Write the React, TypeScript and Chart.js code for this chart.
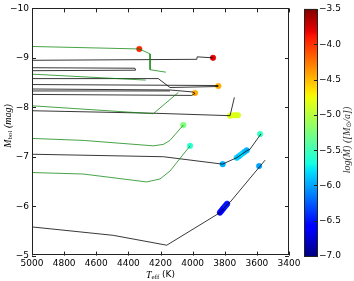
import React, { useEffect, useRef } from "react";
import { Chart, registerables } from "chart.js";
Chart.register(...registerables);

// ---- axis / colorbar ticks ----
const xMin = 3400;
const xMax = 5000;
const yMin = -10;
const yMax = -5;
const xTicks = [5000, 4800, 4600, 4400, 4200, 4000, 3800, 3600, 3400];
const yTicks = [-10, -9, -8, -7, -6, -5];
const cbTicks = [-7.0, -6.5, -6.0, -5.5, -5.0, -4.5, -4.0, -3.5];
const cbMin = -7.0;
const cbMax = -3.5;

// ---- evolutionary tracks (Teff, Mbol) ----
const trackA_T = [5000, 4332, 4265, 4265, 4166];
const trackA_M = [-9.23, -9.18, -9.08, -8.76, -8.71];
const trackB_T = [5000, 3974, 3972, 3873];
const trackB_M = [-8.95, -8.97, -9.02, -9.0];
const trackC_T = [5000, 4359, 4355, 5000];
const trackC_M = [-8.8, -8.79, -8.75, -8.74];
const trackD_T = [5000, 4292];
const trackD_M = [-8.67, -8.55];
const trackE_T = [5000, 4214, 4141, 3840];
const trackE_M = [-8.58, -8.58, -8.4, -8.42];
const trackF_T = [5000, 3840];
const trackF_M = [-8.46, -8.44];
const trackG_T = [5000, 4141, 4000, 3985, 4005, 5000];
const trackG_M = [-8.37, -8.35, -8.31, -8.28, -8.24, -8.26];
const trackH_T = [5000, 4141];
const trackH_M = [-8.33, -8.33];
const trackI_T = [5000, 4245, 4089];
const trackI_M = [-8.03, -7.87, -8.3];
const trackJ_T = [5000, 4245, 3767, 3740];
const trackJ_M = [-7.93, -7.88, -7.83, -8.2];
const trackK_T = [5000, 4681, 4245, 4182, 4141, 4058];
const trackK_M = [-7.37, -7.33, -7.22, -7.25, -7.33, -7.64];
const trackL_T = [5000, 4182, 3813, 3767, 3725, 3663, 3643, 3575];
const trackL_M = [-7.05, -7.0, -6.85, -6.92, -6.98, -7.12, -7.15, -7.46];
const trackM_T = [5000, 4681, 4286, 4203, 4141, 4016];
const trackM_M = [-6.68, -6.65, -6.49, -6.55, -6.71, -7.22];
const trackN_T = [5000, 4494, 4161, 3829, 3780, 3767, 3549];
const trackN_M = [-5.58, -5.41, -5.21, -5.87, -6.05, -6.08, -6.93];

const blackTracks = [
  [trackB_T, trackB_M],
  [trackC_T, trackC_M],
  [trackE_T, trackE_M],
  [trackF_T, trackF_M],
  [trackG_T, trackG_M],
  [trackH_T, trackH_M],
  [trackJ_T, trackJ_M],
  [trackL_T, trackL_M],
  [trackN_T, trackN_M],
];
const greenTracks = [
  [trackA_T, trackA_M],
  [trackD_T, trackD_M],
  [trackI_T, trackI_M],
  [trackK_T, trackK_M],
  [trackM_T, trackM_M],
];

// ---- mass-loss points (Teff, Mbol, log Mdot) ----
const ptT = [4332, 3873, 3840, 3985, 3767, 3745, 3730, 3718, 4058, 4016, 3580, 3813, 3725, 3712, 3700, 3688, 3676, 3663, 3586, 3830, 3822, 3815, 3808, 3800, 3792, 3785];
const ptM = [-9.18, -9.0, -8.43, -8.29, -7.83, -7.84, -7.84, -7.84, -7.64, -7.22, -7.46, -6.85, -6.98, -7.01, -7.04, -7.07, -7.1, -7.13, -6.81, -5.87, -5.9, -5.93, -5.96, -5.99, -6.02, -6.05];
const ptLogMdot = [-3.95, -3.8, -4.45, -4.45, -4.85, -4.8, -4.82, -4.85, -5.25, -5.6, -5.55, -5.95, -5.85, -5.9, -5.85, -5.8, -5.9, -5.95, -6.0, -6.65, -6.6, -6.55, -6.6, -6.5, -6.45, -6.5];

// ---- jet colormap ----
const jetR = [[0, 0], [0.35, 0], [0.66, 1], [0.89, 1], [1, 0.5]];
const jetG = [[0, 0], [0.125, 0], [0.375, 1], [0.64, 1], [0.91, 0], [1, 0]];
const jetB = [[0, 0.5], [0.11, 1], [0.34, 1], [0.65, 0], [1, 0]];
function seg(stops: number[][], t: number) {
  if (t <= stops[0][0]) return stops[0][1];
  for (let i = 1; i < stops.length; i++) {
    if (t <= stops[i][0]) {
      const [x0, y0] = stops[i - 1];
      const [x1, y1] = stops[i];
      return y0 + ((t - x0) / (x1 - x0)) * (y1 - y0);
    }
  }
  return stops[stops.length - 1][1];
}
function jet(v: number) {
  const t = Math.min(1, Math.max(0, (v - cbMin) / (cbMax - cbMin)));
  const r = Math.round(seg(jetR, t) * 255);
  const g = Math.round(seg(jetG, t) * 255);
  const b = Math.round(seg(jetB, t) * 255);
  return `rgb(${r},${g},${b})`;
}

const fmtMinus = (v: number, d: number) => (v < 0 ? "\u2212" : "") + Math.abs(v).toFixed(d);

type Part = { t: string; font: string; dy?: number };
function drawParts(ctx: CanvasRenderingContext2D, parts: Part[], cx: number, cy: number) {
  let w = 0;
  for (const p of parts) {
    ctx.font = p.font;
    w += ctx.measureText(p.t).width;
  }
  let x = cx - w / 2;
  ctx.textBaseline = "middle";
  ctx.textAlign = "left";
  for (const p of parts) {
    ctx.font = p.font;
    ctx.fillText(p.t, x, cy + (p.dy || 0));
    x += ctx.measureText(p.t).width;
  }
}

const SERIF = '"Liberation Serif", "DejaVu Serif", serif';
const SANS = '"DejaVu Sans", sans-serif';

const decorPlugin = {
  id: "decor",
  afterDatasetsDraw(chart: any) {
    const { ctx, chartArea: a, scales } = chart;
    const xs = scales.x;
    const ys = scales.y;
    ctx.save();
    ctx.strokeStyle = "#222";
    ctx.lineWidth = 1;
    ctx.strokeRect(Math.round(a.left) + 0.5, Math.round(a.top) + 0.5, Math.round(a.right - a.left) - 1, Math.round(a.bottom - a.top) - 1);
    ctx.beginPath();
    for (const t of xTicks) {
      const px = Math.round(xs.getPixelForValue(t)) + 0.5;
      ctx.moveTo(px, a.bottom);
      ctx.lineTo(px, a.bottom - 4);
      ctx.moveTo(px, a.top);
      ctx.lineTo(px, a.top + 4);
    }
    for (const t of yTicks) {
      const py = Math.round(ys.getPixelForValue(t)) + 0.5;
      ctx.moveTo(a.left, py);
      ctx.lineTo(a.left + 4, py);
      ctx.moveTo(a.right, py);
      ctx.lineTo(a.right - 4, py);
    }
    ctx.stroke();
    ctx.restore();
  },
  afterDraw(chart: any) {
    const { ctx, chartArea: a } = chart;
    ctx.save();
    ctx.fillStyle = "#000";
    // x title
    drawParts(
      ctx,
      [
        { t: "T", font: `italic 10px ${SERIF}` },
        { t: "eff", font: `7px ${SERIF}`, dy: 2.5 },
        { t: " (K)", font: `9px ${SANS}` },
      ],
      (a.left + a.right) / 2,
      275
    );
    // y title
    ctx.save();
    ctx.translate(8, 126);
    ctx.rotate(-Math.PI / 2);
    drawParts(
      ctx,
      [
        { t: "M", font: `italic 10px ${SERIF}` },
        { t: "bol", font: `7px ${SERIF}`, dy: 2.5 },
        { t: " (mag)", font: `italic 10px ${SERIF}` },
      ],
      0,
      0
    );
    ctx.restore();

    // colorbar
    const cbL = a.right + 15;
    const cbW = 13;
    const cbTop = a.top + 0.5;
    const cbBot = a.bottom + 0.5;
    const grad = ctx.createLinearGradient(0, cbBot, 0, cbTop);
    const n = 64;
    for (let i = 0; i <= n; i++) {
      const v = cbMin + ((cbMax - cbMin) * i) / n;
      grad.addColorStop(i / n, jet(v));
    }
    ctx.fillStyle = grad;
    ctx.fillRect(cbL, cbTop, cbW, cbBot - cbTop);
    ctx.strokeStyle = "#222";
    ctx.lineWidth = 1;
    ctx.strokeRect(Math.round(cbL) + 0.5, Math.round(cbTop) + 0.5, cbW, Math.round(cbBot - cbTop));
    ctx.fillStyle = "#000";
    ctx.font = `9px ${SANS}`;
    ctx.textAlign = "left";
    ctx.textBaseline = "middle";
    ctx.beginPath();
    for (const v of cbTicks) {
      const py = cbBot - ((v - cbMin) / (cbMax - cbMin)) * (cbBot - cbTop);
      ctx.fillText(fmtMinus(v, 1), cbL + cbW + 2, py);
      const pr = Math.round(py) + 0.5;
      ctx.moveTo(cbL + cbW, pr);
      ctx.lineTo(cbL + cbW - 3, pr);
    }
    ctx.stroke();
    // colorbar title
    ctx.save();
    ctx.translate(347, 140);
    ctx.rotate(-Math.PI / 2);
    ctx.fillStyle = "#333";
    drawParts(
      ctx,
      [
        { t: "log(\u1E40) ([M", font: `italic 10px ${SERIF}` },
        { t: "\u2299", font: `7px ${SANS}`, dy: 2.5 },
        { t: "/a])", font: `italic 10px ${SERIF}` },
      ],
      0,
      0
    );
    ctx.restore();
    ctx.restore();
  },
};

export default function App() {
  const ref = useRef<HTMLCanvasElement | null>(null);
  useEffect(() => {
    if (!ref.current) return;
    const lineDs = (tr: number[][], color: string) => ({
      type: "line" as const,
      data: tr[0].map((t, i) => ({ x: t, y: tr[1][i] })),
      borderColor: color,
      borderWidth: 1,
      pointRadius: 0,
      showLine: true,
      fill: false,
      tension: 0,
      order: 0,
    });
    const datasets: any[] = [
      ...greenTracks.map((tr) => lineDs(tr, "rgba(0,128,0,0.72)")),
      ...blackTracks.map((tr) => lineDs(tr, "rgba(0,0,0,0.78)")),
      {
        type: "scatter",
        data: ptT.map((t, i) => ({ x: t, y: ptM[i] })),
        pointBackgroundColor: ptLogMdot.map((v) => jet(v)),
        pointBorderColor: ptLogMdot.map((v) => jet(v)),
        pointBorderWidth: 0.5,
        pointRadius: 2.8,
        showLine: false,
        order: 1,
      },
    ];
    const chart = new Chart(ref.current, {
      type: "scatter",
      data: { datasets },
      options: {
        animation: false,
        responsive: true,
        maintainAspectRatio: false,
        layout: { padding: { left: 0, right: 65, top: 6, bottom: 0 } },
        plugins: { legend: { display: false }, tooltip: { enabled: false } },
        scales: {
          x: {
            type: "linear",
            min: xMin,
            max: xMax,
            reverse: true,
            grid: { display: false, drawTicks: false },
            border: { display: false },
            afterFit: (s: any) => {
              s.height = 25.4;
            },
            afterBuildTicks: (s: any) => {
              s.ticks = xTicks.map((v) => ({ value: v }));
            },
            ticks: {
              padding: 3,
              color: "#000",
              font: { family: "DejaVu Sans", size: 9 },
              maxRotation: 0,
              autoSkip: false,
              callback: (v: any) => String(v),
            },
          },
          y: {
            type: "linear",
            min: yMin,
            max: yMax,
            reverse: true,
            grid: { display: false, drawTicks: false },
            border: { display: false },
            afterFit: (s: any) => {
              s.width = 32;
            },
            afterBuildTicks: (s: any) => {
              s.ticks = yTicks.map((v) => ({ value: v }));
            },
            ticks: {
              padding: 3,
              color: "#000",
              font: { family: "DejaVu Sans", size: 9 },
              autoSkip: false,
              callback: (v: any) => fmtMinus(Number(v), 0),
            },
          },
        },
      } as any,
      plugins: [decorPlugin],
    });
    return () => chart.destroy();
  }, []);
  return (
    <div style={{ position: "absolute", left: 0, top: 0, width: 354, height: 281 }}>
      <canvas ref={ref} />
    </div>
  );
}
